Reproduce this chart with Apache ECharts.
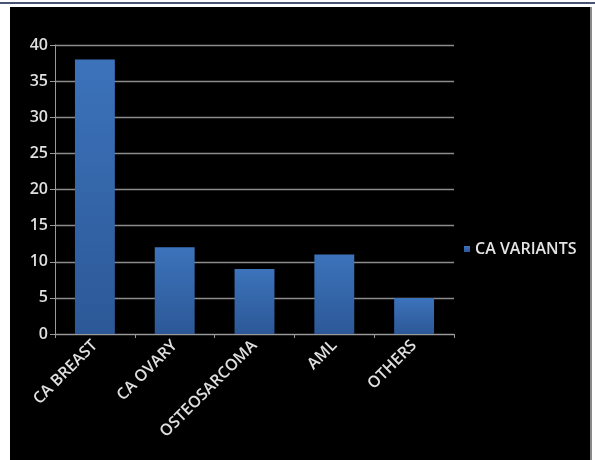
<!DOCTYPE html>
<html>
<head>
<meta charset="utf-8">
<style>html,body{margin:0;padding:0;background:#fff;}#c{width:595px;height:460px;}</style>
<script src="https://cdn.jsdelivr.net/npm/echarts@6/dist/echarts.min.js"></script>
</head>
<body>
<div id="c"></div>
<script>
const categories = ['CA BREAST', 'CA OVARY', 'OSTEOSARCOMA', 'AML', 'OTHERS'];
const seriesName = 'CA VARIANTS';
const values = [38, 12, 9, 11, 5];
const yTicks = { min: 0, max: 40, interval: 5 };

const chart = echarts.init(document.getElementById('c'), null, { renderer: 'canvas' });
const fontFam = 'Open Sans, sans-serif';
chart.setOption({
  backgroundColor: '#ffffff',
  animation: false,
  graphic: [
    { type: 'rect', z: -10, shape: { x: 0, y: 2, width: 595, height: 2 }, style: { fill: '#4a5573' } },
    { type: 'rect', z: -10, shape: { x: 10, y: 7, width: 581, height: 453 }, style: { fill: '#000000' } },
    { type: 'rect', z: -10, shape: { x: 590, y: 7, width: 2, height: 453 }, style: { fill: '#8a8a8a' } }
  ],
  grid: { left: 55, right: 141, top: 45, bottom: 126, containLabel: false },
  legend: {
    data: [seriesName],
    left: 459, top: 236,
    itemWidth: 6, itemHeight: 6, itemGap: 4,
    icon: 'rect',
    textStyle: { color: '#e4e4e4', fontSize: 16, fontWeight: 600, fontFamily: fontFam }
  },
  xAxis: {
    type: 'category',
    data: categories,
    axisLine: { lineStyle: { color: '#9a9a9a', width: 1 } },
    axisTick: { show: true, alignWithLabel: false, length: 4, lineStyle: { color: '#9a9a9a' } },
    axisLabel: { rotate: 45, color: '#e0e0e0', fontSize: 16, fontWeight: 600, fontFamily: fontFam, margin: 9, interval: 0 }
  },
  yAxis: {
    type: 'value',
    min: yTicks.min, max: yTicks.max, interval: yTicks.interval,
    axisLine: { show: true, lineStyle: { color: '#9a9a9a', width: 1 } },
    axisTick: { show: true, length: 5, lineStyle: { color: '#9a9a9a' } },
    axisLabel: { color: '#e0e0e0', fontSize: 16, fontWeight: 600, fontFamily: fontFam, margin: 7 },
    splitLine: { lineStyle: { color: '#8c8c8c', width: 1.3 } }
  },
  series: [{
    name: seriesName,
    type: 'bar',
    data: values,
    barWidth: '50%',
    itemStyle: {
      color: new echarts.graphic.LinearGradient(0, 0, 0, 1, [
        { offset: 0, color: '#3c73bb' },
        { offset: 1, color: '#2c5897' }
      ])
    }
  }]
});
</script>
</body>
</html>
